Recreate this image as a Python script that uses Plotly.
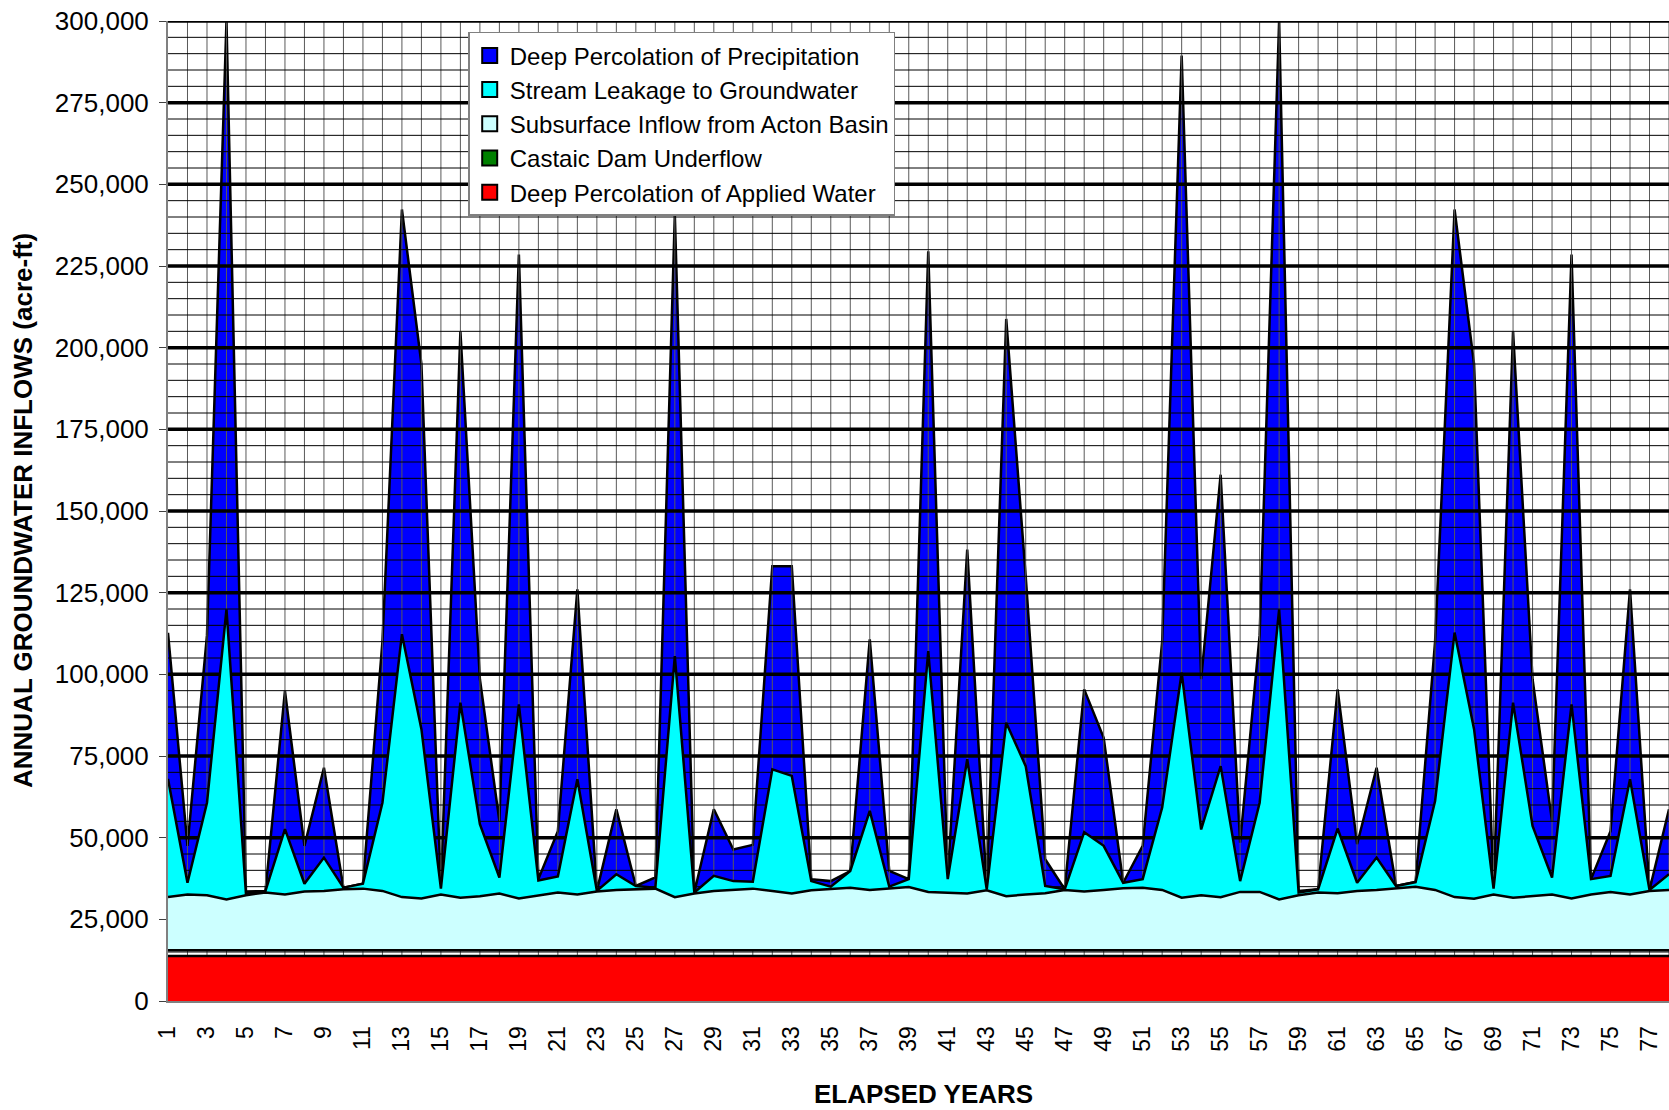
import numpy as np
import plotly.graph_objects as go

years = list(range(1, 79))

# Deep Percolation of Applied Water (acre-ft)
applied = [
    13800, 13800, 13800, 13800, 13800, 13800, 13800, 13800, 13800, 13800,
    13800, 13800, 13800, 13800, 13800, 13800, 13800, 13800, 13800, 13800,
    13800, 13800, 13800, 13800, 13800, 13800, 13800, 13800, 13800, 13800,
    13800, 13800, 13800, 13800, 13800, 13800, 13800, 13800, 13800, 13800,
    13800, 13800, 13800, 13800, 13800, 13800, 13800, 13800, 13800, 13800,
    13800, 13800, 13800, 13800, 13800, 13800, 13800, 13800, 13800, 13800,
    13800, 13800, 13800, 13800, 13800, 13800, 13800, 13800, 13800, 13800,
    13800, 13800, 13800, 13800, 13800, 13800, 13800, 13800]

# Castaic Dam Underflow (acre-ft)
castaic = [
    1700, 1700, 1700, 1700, 1700, 1700, 1700, 1700, 1700, 1700,
    1700, 1700, 1700, 1700, 1700, 1700, 1700, 1700, 1700, 1700,
    1700, 1700, 1700, 1700, 1700, 1700, 1700, 1700, 1700, 1700,
    1700, 1700, 1700, 1700, 1700, 1700, 1700, 1700, 1700, 1700,
    1700, 1700, 1700, 1700, 1700, 1700, 1700, 1700, 1700, 1700,
    1700, 1700, 1700, 1700, 1700, 1700, 1700, 1700, 1700, 1700,
    1700, 1700, 1700, 1700, 1700, 1700, 1700, 1700, 1700, 1700,
    1700, 1700, 1700, 1700, 1700, 1700, 1700, 1700]

# Subsurface Inflow from Acton Basin (acre-ft)
subsurface = [
    16300, 17100, 16900, 15600, 16900, 17700, 17100, 18000, 18200, 18700,
    18900, 18200, 16300, 15900, 17100, 16100, 16600, 17400, 15900, 16900,
    17700, 17100, 18000, 18500, 18700, 18900, 16300, 17400, 18200, 18500,
    18900, 18200, 17400, 18400, 18900, 19200, 18500, 19000, 19400, 17900,
    17700, 17400, 18400, 16600, 17100, 17500, 18500, 18000, 18500, 19000,
    19200, 18500, 16100, 16900, 16300, 17900, 17900, 15600, 16900, 17700,
    17500, 18200, 18500, 19000, 19500, 18500, 16300, 15800, 17100, 16100,
    16600, 17100, 15900, 17100, 17900, 17100, 18200, 18500]

# Stream Leakage to Groundwater (acre-ft)
stream = [
    36200, 3600, 28300, 88800, 400, 500, 20000, 2400, 10200, 500,
    1500, 27000, 80500, 51800, 1800, 59700, 22000, 4900, 59400, 4500,
    4900, 35300, 200, 4800, 1000, 300, 73800, 300, 4600, 2700,
    2100, 37200, 36000, 2800, 600, 5100, 24200, 500, 2400, 73700,
    4100, 41100, 300, 53100, 39300, 2200, 200, 18200, 13500, 1700,
    2600, 25200, 68900, 20100, 40100, 3300, 27300, 88800, 800, 1000,
    19800, 2500, 9900, 700, 1400, 27200, 81000, 51900, 1800, 59700,
    21500, 5200, 59400, 4700, 4900, 35300, 300, 4800]

# Deep Percolation of Precipitation (acre-ft)
precip = [
    44700, 11300, 51300, 180100, 700, 0, 42300, 11600, 27500, 0,
    0, 49300, 130000, 111800, 0, 113700, 44400, 17300, 137700, 400,
    13900, 58100, 0, 19900, 0, 3100, 135100, 0, 20400, 9700,
    11300, 62200, 64200, 600, 1700, 0, 52500, 4800, 0, 122400,
    0, 64200, 300, 123600, 58100, 8200, 0, 43700, 33100, 0,
    10200, 50800, 188900, 46000, 89200, 11800, 51300, 180100, 500, 0,
    42600, 11800, 27500, 0, 0, 48800, 129500, 111800, 0, 113700,
    44900, 17200, 137700, 0, 13700, 58100, 0, 19900]

series_names = [
    "Deep Percolation of Precipitation",
    "Stream Leakage to Groundwater",
    "Subsurface Inflow from Acton Basin",
    "Castaic Dam Underflow",
    "Deep Percolation of Applied Water",
]
series_colors = ["#0000FF", "#00FFFF", "#CCFFFF", "#008000", "#FF0000"]

y_ticks = list(range(0, 300001, 25000))
x_ticks = list(range(1, 78, 2))

# cumulative stack levels
c1 = np.array(applied, dtype=float)
c2 = c1 + np.array(castaic)
c3 = c2 + np.array(subsurface)
c4 = c3 + np.array(stream)
c5 = c4 + np.array(precip)

FONT = "Liberation Sans, Arial, sans-serif"
OUT = dict(color="black", width=2.5)
HIDE = dict(showlegend=False, hoverinfo="skip")

fig = go.Figure()

# Deep percolation of precipitation (between stream top and total)
fig.add_trace(go.Scatter(x=years, y=c4, mode="lines", line=dict(width=0), **HIDE))
fig.add_trace(go.Scatter(x=years, y=c5, mode="lines", fill="tonexty",
                         fillcolor=series_colors[0], line=OUT, **HIDE))

# grid drawn over the blue layer (as in the original), covered by lower layers
x0, x1 = years[0], years[-1]
minor_y = [v for v in range(5000, 300001, 5000) if v % 25000 != 0]
gx, gy = [], []
for v in minor_y:
    gx += [x0, x1, None]
    gy += [v, v, None]
vx, vy = [], []
for k in years[1:]:
    vx += [k, k, None]
    vy += [0, 300000, None]
fig.add_trace(go.Scatter(x=vx, y=vy, mode="lines",
                         line=dict(color="#5a5a5a", width=1), **HIDE))
fig.add_trace(go.Scatter(x=gx, y=gy, mode="lines",
                         line=dict(color="black", width=1), **HIDE))
mx, my = [], []
for v in y_ticks[1:]:
    mx += [x0, x1, None]
    my += [v, v, None]
fig.add_trace(go.Scatter(x=mx, y=my, mode="lines",
                         line=dict(color="black", width=3.5), **HIDE))

# Stream leakage
fig.add_trace(go.Scatter(x=years, y=c3, mode="lines", line=dict(width=0), **HIDE))
fig.add_trace(go.Scatter(x=years, y=c4, mode="lines", fill="tonexty",
                         fillcolor=series_colors[1], line=OUT, **HIDE))

# Subsurface inflow
fig.add_trace(go.Scatter(x=years, y=c2, mode="lines", line=OUT, **HIDE))
fig.add_trace(go.Scatter(x=years, y=c3, mode="lines", fill="tonexty",
                         fillcolor=series_colors[2], line=OUT, **HIDE))

# Deep percolation of applied water
fig.add_trace(go.Scatter(x=years, y=c1, mode="lines", fill="tozeroy",
                         fillcolor=series_colors[4], line=OUT, **HIDE))

# legend entries (square swatches)
for name, col in zip(series_names, series_colors):
    fig.add_trace(go.Scatter(x=[None], y=[None], mode="markers", name=name,
                             marker=dict(symbol="square", size=15, color=col,
                                         line=dict(color="black", width=2))))

fig.update_layout(
    width=1669, height=1110,
    margin=dict(l=168, r=0, t=21, b=109),
    paper_bgcolor="white", plot_bgcolor="white",
    font=dict(family=FONT, color="black"),
    hovermode=False,
    showlegend=True,
    legend=dict(x=0.2, y=0.989, xanchor="left", yanchor="top",
                bgcolor="white", bordercolor="#808080", borderwidth=1.5,
                font=dict(size=24, family=FONT), traceorder="normal",
                itemwidth=30, tracegroupgap=0),
    xaxis=dict(range=[1, 78], tickvals=x_ticks, ticktext=[str(v) for v in x_ticks],
               tickangle=-90, showgrid=False, zeroline=False,
               showline=True, linecolor="#808080", linewidth=2,
               ticks="", ticklabelstandoff=14, ticklabeloverflow="allow",
               tickfont=dict(size=23, family=FONT)),
    yaxis=dict(range=[0, 300000], tickvals=y_ticks,
               ticktext=[f"{v:,}" for v in y_ticks],
               showgrid=False, zeroline=False, showline=True,
               linecolor="#808080", linewidth=2, ticks="outside",
               ticklen=7, tickcolor="#404040", ticklabelstandoff=5,
               ticklabeloverflow="allow",
               tickfont=dict(size=26, family=FONT)),
    annotations=[
        dict(text="<b>ANNUAL GROUNDWATER INFLOWS (acre-ft)</b>", xref="paper",
             yref="paper", x=-0.0966, y=0.5, textangle=-90, showarrow=False,
             xanchor="center", yanchor="middle", font=dict(size=26, family=FONT)),
        dict(text="<b>ELAPSED YEARS</b>", xref="paper", yref="paper",
             x=0.503, y=-0.095, showarrow=False, xanchor="center",
             yanchor="middle", font=dict(size=26, family=FONT)),
    ],
)

fig.write_html(
    "out.html",
    config={"displayModeBar": False},
    post_script="document.body.style.margin='0';document.body.style.overflow='hidden';",
)
